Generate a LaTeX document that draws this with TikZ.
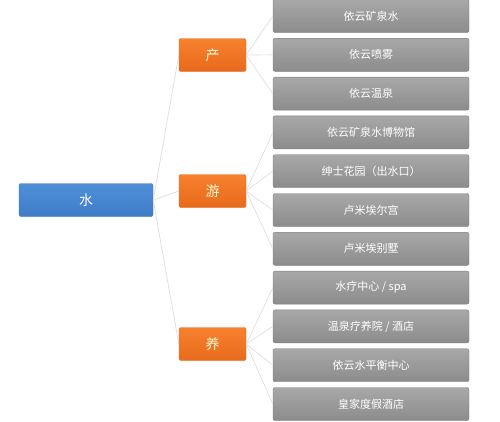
\documentclass[tikz,border=0pt]{standalone}
\usepackage{fontspec}
\newfontfamily\cjk{Noto Sans CJK SC}
\usetikzlibrary{positioning}
\definecolor{waterblue}{HTML}{4F8FDA}
\definecolor{waterdark}{HTML}{3F7CC6}
\definecolor{catorange}{HTML}{F7812E}
\definecolor{catdark}{HTML}{E86A1C}
\definecolor{itemlight}{HTML}{A8A8A8}
\definecolor{itemdark}{HTML}{8C8C8C}
\tikzset{
	rootbox/.style={
			rounded corners=2pt, draw=waterdark, top color=waterblue, bottom color=waterdark,
			minimum width=134pt, minimum height=33pt, inner sep=0pt,
			text=white, font=\cjk\fontsize{14}{16}\selectfont
		},
	catbox/.style={
			rounded corners=2pt, draw=catdark, top color=catorange, bottom color=catdark,
			minimum width=67pt, minimum height=33pt, inner sep=0pt,
			text=yellow!15, font=\cjk\fontsize{14}{16}\selectfont
		},
	itembox/.style={
			rounded corners=2pt, draw=itemdark!90!black, top color=itemlight, bottom color=itemdark,
			minimum width=196pt, minimum height=33pt, inner sep=0pt,
			text=white, font=\cjk\fontsize{11}{13}\selectfont
		},
	link/.style={draw=black!13, line width=0.7pt}
}

\begin{document}
\begin{tikzpicture}[x=1pt,y=-1pt]
	\useasboundingbox (0,0) rectangle (500,421);
	% Root and categories
	\node[rootbox] (water) at (86,200) {水};
	\node[catbox] (chan) at (212.5,55) {产};
	\node[catbox] (you) at (212.5,191) {游};
	\node[catbox] (yang) at (212.5,344) {养};
	% Items
	\foreach \txt [count=\i from 0] in {依云矿泉水,依云喷雾,依云温泉,依云矿泉水博物馆,
			绅士花园（出水口）,卢米埃尔宫,卢米埃别墅,水疗中心 / spa,
			温泉疗养院 / 酒店,依云水平衡中心,皇家度假酒店}
		\node[itembox] (item\i) at (371,16+38.8*\i) {\txt};
	% Connectors
	\draw[link] (water.east) -- (chan.west);
	\draw[link] (water.east) -- (you.west);
	\draw[link] (water.east) -- (yang.west);
	\foreach \i in {0,1,2}
		\draw[link] (chan.east) -- (item\i.west);
	\foreach \i in {3,4,5,6}
		\draw[link] (you.east) -- (item\i.west);
	\foreach \i in {7,8,9,10}
		\draw[link] (yang.east) -- (item\i.west);
\end{tikzpicture}
\end{document}
